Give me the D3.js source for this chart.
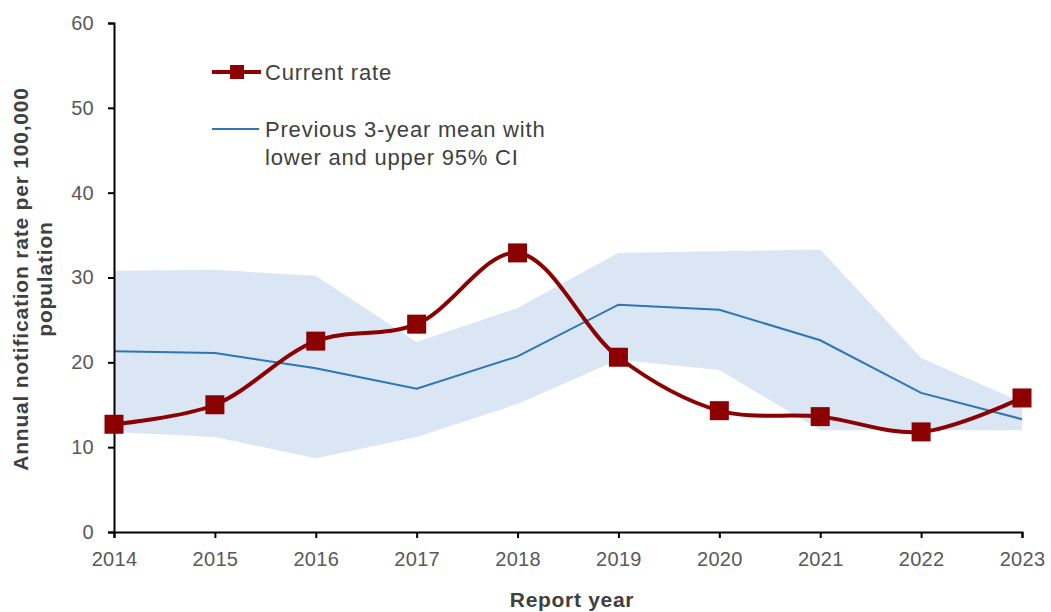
<!DOCTYPE html>
<html>
<head>
<meta charset="utf-8">
<script src="https://cdn.jsdelivr.net/npm/d3@7"></script>
<style>
  body { margin: 0; background: #fff; }
  svg { font-family: "Liberation Sans", Arial, sans-serif; }
</style>
</head>
<body>
<svg id="chart" width="1051" height="612"></svg>
<script>
const years = [2014, 2015, 2016, 2017, 2018, 2019, 2020, 2021, 2022, 2023];
const currentRate = [12.7, 15.0, 22.5, 24.5, 32.9, 20.6, 14.3, 13.6, 11.8, 15.8];
const prevMean = [21.3, 21.1, 19.3, 16.9, 20.7, 26.8, 26.2, 22.6, 16.4, 13.3];
const lowerCI = [11.8, 11.2, 8.7, 11.2, 15.1, 20.3, 19.1, 12.0, 12.0, 12.0];
const upperCI = [30.8, 30.9, 30.2, 22.4, 26.4, 32.9, 33.1, 33.3, 20.5, 15.3];
const yTicks = [0, 10, 20, 30, 40, 50, 60];

const svg = d3.select("#chart");
const plot = { left: 114, right: 1022, top: 23, bottom: 532 };

const x = d3.scaleLinear().domain([2014, 2023]).range([plot.left, plot.right]);
const y = d3.scaleLinear().domain([0, 60]).range([plot.bottom, plot.top]);

const rows = years.map((yr, i) => ({
  year: yr, cur: currentRate[i], mean: prevMean[i], lo: lowerCI[i], hi: upperCI[i]
}));

// confidence band
svg.append("path")
  .datum(rows)
  .attr("fill", "#dbe6f4")
  .attr("d", d3.area().x(d => x(d.year)).y0(d => y(d.lo)).y1(d => y(d.hi)));

// previous 3-year mean
svg.append("path")
  .datum(rows)
  .attr("fill", "none")
  .attr("stroke", "#2e75b6")
  .attr("stroke-width", 2)
  .attr("d", d3.line().x(d => x(d.year)).y(d => y(d.mean)));

// axes
const yAxis = svg.append("g")
  .attr("transform", `translate(${plot.left},0)`)
  .call(d3.axisLeft(y).tickValues(yTicks).tickSize(6).tickPadding(14));
const xAxis = svg.append("g")
  .attr("transform", `translate(0,${plot.bottom})`)
  .call(d3.axisBottom(x).tickValues(years).tickFormat(d3.format("d")).tickSize(6).tickPadding(14));

[yAxis, xAxis].forEach(g => {
  g.select(".domain").attr("stroke", "#000").attr("stroke-width", 2);
  g.selectAll(".tick line").attr("stroke", "#000").attr("stroke-width", 2);
  g.selectAll(".tick text").attr("fill", "#595959")
    .style("font-size", "20px").style("letter-spacing", "0.3px");
});

// current rate, smoothed
svg.append("path")
  .datum(rows)
  .attr("fill", "none")
  .attr("stroke", "#8b0000")
  .attr("stroke-width", 4)
  .attr("d", d3.line().curve(d3.curveCatmullRom.alpha(0.5)).x(d => x(d.year)).y(d => y(d.cur)));

const sq = 19;
svg.selectAll("rect.marker")
  .data(rows)
  .enter()
  .append("rect")
  .attr("class", "marker")
  .attr("x", d => x(d.year) - sq / 2)
  .attr("y", d => y(d.cur) - sq / 2)
  .attr("width", sq)
  .attr("height", sq)
  .attr("fill", "#8b0000");

// legend
const lg = svg.append("g")
  .style("font-size", "22px")
  .style("letter-spacing", "0.8px")
  .attr("fill", "#404040");
lg.append("line").attr("x1", 212).attr("x2", 261).attr("y1", 72).attr("y2", 72)
  .attr("stroke", "#8b0000").attr("stroke-width", 4);
lg.append("rect").attr("x", 237 - 7).attr("y", 72 - 7).attr("width", 14).attr("height", 14)
  .attr("fill", "#8b0000");
lg.append("text").attr("x", 265).attr("y", 80).text("Current rate");
lg.append("line").attr("x1", 212).attr("x2", 259).attr("y1", 129).attr("y2", 129)
  .attr("stroke", "#2e75b6").attr("stroke-width", 2);
lg.append("text").attr("x", 265).attr("y", 137).text("Previous 3-year mean with");
lg.append("text").attr("x", 265).attr("y", 165).text("lower and upper 95% CI");

// axis titles
svg.append("text")
  .attr("x", 572).attr("y", 607)
  .attr("text-anchor", "middle")
  .attr("fill", "#404040")
  .style("font-size", "21px").style("font-weight", "bold").style("letter-spacing", "0.7px")
  .text("Report year");

const yt = svg.append("text")
  .attr("transform", "translate(0,279) rotate(-90)")
  .attr("text-anchor", "middle")
  .attr("fill", "#404040")
  .style("font-size", "21px").style("font-weight", "bold").style("letter-spacing", "0.8px");
yt.append("tspan").attr("x", 0).attr("y", 28).text("Annual notification rate per 100,000");
yt.append("tspan").attr("x", 0).attr("y", 52).text("population");
</script>
</body>
</html>
